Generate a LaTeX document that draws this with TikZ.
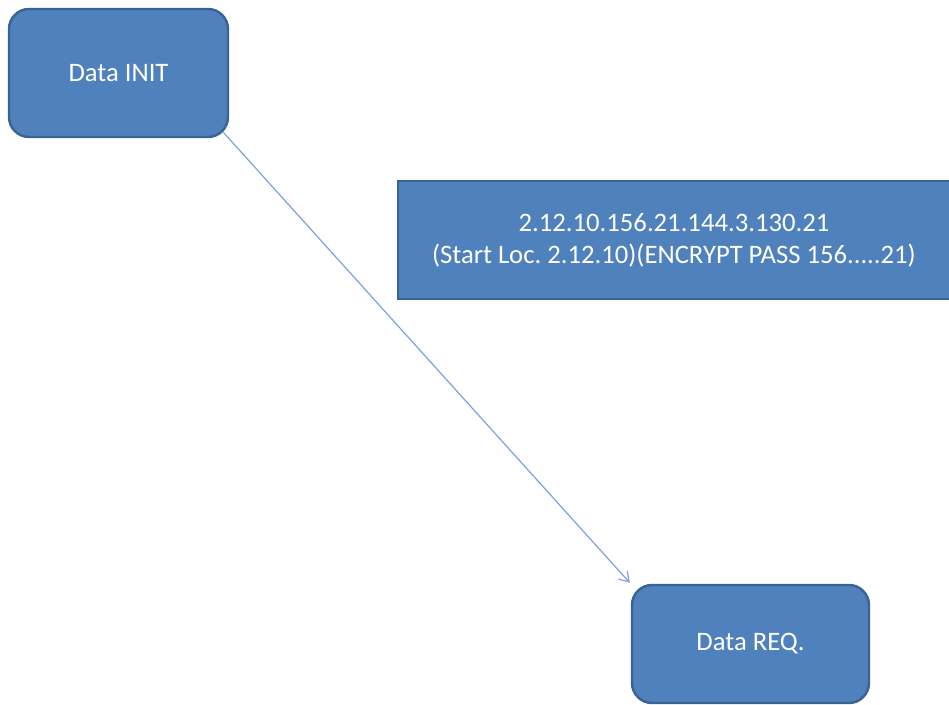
\documentclass[tikz,border=0pt]{standalone}
\usepackage{fontspec}
\setmainfont{Carlito}
\usetikzlibrary{arrows.meta}
\usetikzlibrary{positioning}
\frenchspacing

\definecolor{boxfill}{HTML}{4F81BD}
\definecolor{boxline}{HTML}{3A6391}
\definecolor{arrowline}{HTML}{7DA2D4}

\begin{document}
\begin{tikzpicture}[x=0.75pt,y=-0.75pt,
  every node/.style={fill=boxfill,draw=boxline,line width=1.8pt,text=white,font=\fontsize{20}{24}\selectfont,align=center,inner sep=0pt},
  roundbox/.style={rounded corners=15pt}]
  \useasboundingbox (0,0) rectangle (949,705);
  \begin{scope}
  \clip (0,0) rectangle (949,705);
  \node[roundbox,minimum width=219*0.75pt,minimum height=128*0.75pt] (init) at (118.5,73) {Data INIT};
  \node[minimum width=552*0.75pt,minimum height=118*0.75pt] (code) at (674,240) {2.12.10.156.21.144.3.130.21\\(Start Loc. 2.12.10)(ENCRYPT PASS 156.....21)};
  \node[roundbox,minimum width=237*0.75pt,minimum height=118*0.75pt] (req) at (750.5,644) {Data REQ.};
  \end{scope}
  
  \draw[arrowline,line width=0.9pt,-{Straight Barb[length=7pt,width=9pt]}]([shift={(-6,-6)}]init.south east)--([shift={(-1,-1)}]req.north west);
\end{tikzpicture}
\end{document}
